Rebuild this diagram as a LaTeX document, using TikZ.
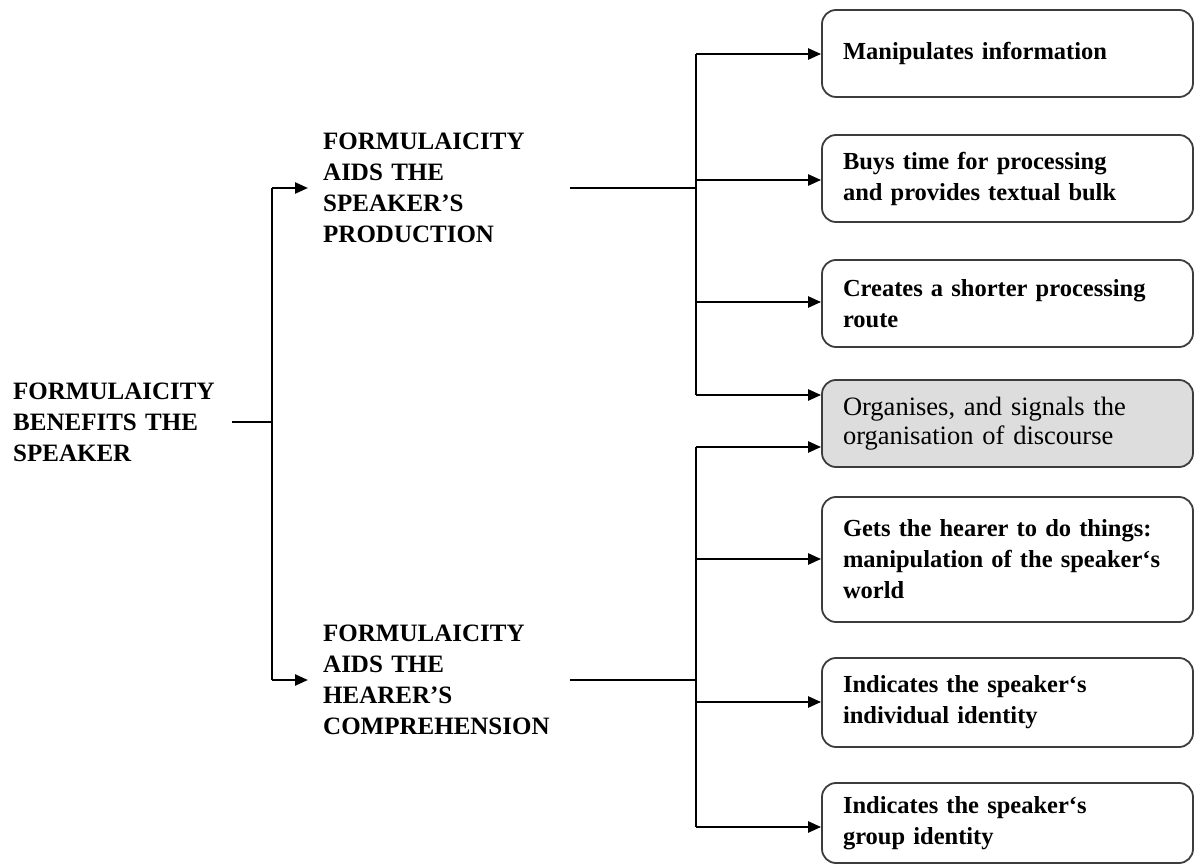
\documentclass[tikz,border=0pt]{standalone}
\usepackage{fontspec}
\setmainfont{Liberation Serif}
\usetikzlibrary{arrows.meta}
\definecolor{boxgrey}{RGB}{221,221,221}
\definecolor{edgegrey}{RGB}{60,60,60}
\begin{document}
\begin{tikzpicture}[x=1pt,y=-1pt,
  heading/.style={font=\fontsize{25}{31}\selectfont\bfseries, align=left,
    inner ysep=0pt, anchor=west},
  leaf/.style={draw=edgegrey, line width=1.8pt, rounded corners=14pt, fill=white,
    text width=329pt, inner xsep=21pt, inner ysep=0pt, align=left,
    font=\fontsize{24.5}{31}\selectfont\bfseries},
  shaded/.style={leaf, fill=boxgrey, font=\fontsize{26.5}{29}\selectfont},
  link/.style={line width=2.4pt, draw=black},
  feed/.style={link, -{Triangle[length=13pt,width=11pt]}},
]
\useasboundingbox (0,0) rectangle (1195,866);

% left-hand headings
\node[heading, text width=206pt, inner xsep=13pt] (root) at (0,422)
  {FORMULAICITY\\BENEFITS THE\\SPEAKER};
\node[heading, text width=232pt, inner xsep=15pt] (prod) at (308,188)
  {FORMULAICITY\\AIDS THE\\SPEAKER’S\\PRODUCTION};
\node[heading, text width=232pt, inner xsep=15pt] (hear) at (308,680)
  {FORMULAICITY\\AIDS THE\\HEARER’S\\COMPREHENSION};

% right-hand boxes
\node[leaf, minimum height=87pt] (b1) at (1007.5,53.5) {Manipulates information};
\node[leaf, minimum height=87pt] (b2) at (1007.5,178.5)
  {Buys time for processing\\and provides textual bulk};
\node[leaf, minimum height=87pt] (b3) at (1007.5,303.5)
  {Creates a shorter processing\\route};
\node[shaded, minimum height=87pt] (b4) at (1007.5,423.5)
  {Organises, and signals the\\organisation of discourse};
\node[leaf, minimum height=125pt] (b5) at (1007.5,559.5)
  {Gets the hearer to do things:\\manipulation of the speaker‘s\\world};
\node[leaf, minimum height=89pt] (b6) at (1007.5,702.5)
  {Indicates the speaker‘s\\individual identity};
\node[leaf, minimum height=80pt] (b7) at (1007.5,823)
  {Indicates the speaker‘s\\group identity};

% junction points of the connector trees
\coordinate (rJ) at (272,422);
\coordinate (rTop) at (272,188);
\coordinate (rBot) at (272,680);
\coordinate (pJ) at (696,188);
\coordinate (p1) at (696,54);
\coordinate (p2) at (696,180);
\coordinate (p3) at (696,302);
\coordinate (p4) at (696,395);
\coordinate (hJ) at (696,680);
\coordinate (h4) at (696,447);
\coordinate (h5) at (696,559);
\coordinate (h6) at (696,702);
\coordinate (h7) at (696,827);

% root tree
\draw[link] (root.east) -- (rJ);
\draw[link] (rTop) -- (rBot);
\draw[feed] (rTop) -- (prod.west);
\draw[feed] (rBot) -- (hear.west);

% production tree
\draw[link] (prod.east) -- (pJ);
\draw[link] (p1) -- (p4);
\draw[feed] (p1) -- (b1.west |- p1);
\draw[feed] (p2) -- (b2.west |- p2);
\draw[feed] (p3) -- (b3.west |- p3);
\draw[feed] (p4) -- (b4.west |- p4);

% comprehension tree
\draw[link] (hear.east) -- (hJ);
\draw[link] (h4) -- (h7);
\draw[feed] (h4) -- (b4.west |- h4);
\draw[feed] (h5) -- (b5.west |- h5);
\draw[feed] (h6) -- (b6.west |- h6);
\draw[feed] (h7) -- (b7.west |- h7);
\end{tikzpicture}
\end{document}
